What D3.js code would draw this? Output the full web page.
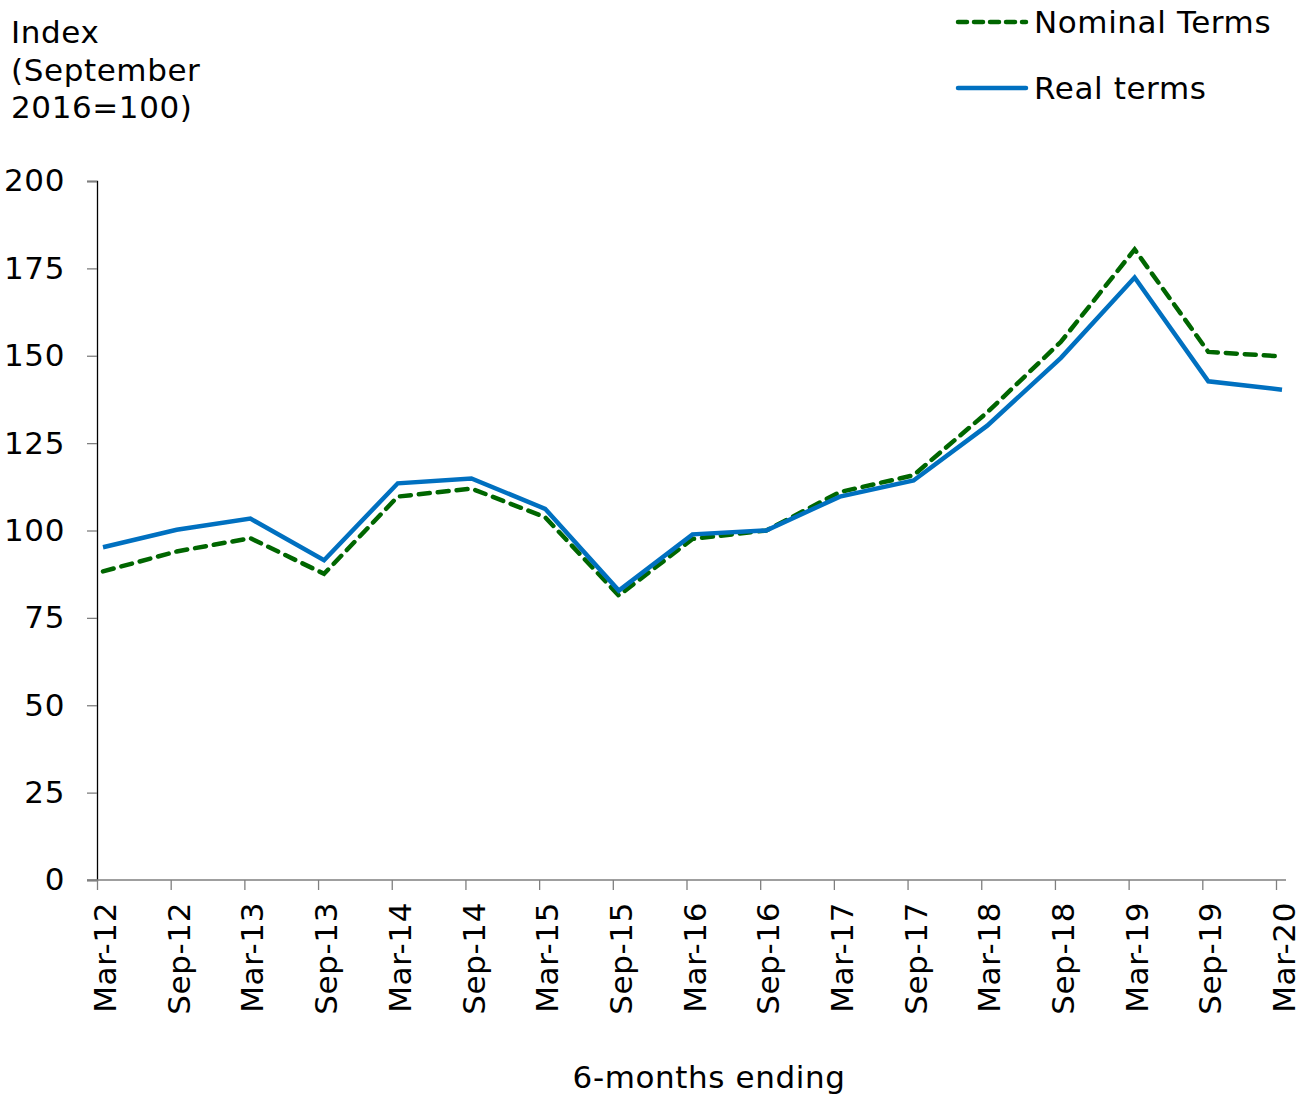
<!DOCTYPE html>
<html>
<head>
<meta charset="utf-8">
<script src="https://cdn.jsdelivr.net/npm/d3@7"></script>
<style>
  body { margin: 0; background: #fff; }
  text { font-family: "DejaVu Sans", Verdana, sans-serif; letter-spacing: 0.6px; }
</style>
</head>
<body>
<div id="chart"></div>
<script>
var width = 1301;
var height = 1094;

var periods = ["Mar-12", "Sep-12", "Mar-13", "Sep-13", "Mar-14", "Sep-14", "Mar-15", "Sep-15",
               "Mar-16", "Sep-16", "Mar-17", "Sep-17", "Mar-18", "Sep-18", "Mar-19", "Sep-19", "Mar-20"];
var nominal = [88.3, 94, 97.8, 87.6, 109.7, 112, 103.8, 81.4,
               97.6, 100, 111, 115.8, 133.8, 154, 180.4, 151.1, 149.8];
var real = [95.2, 100.2, 103.4, 91.5, 113.5, 114.9, 106.2, 82.8,
            98.9, 100, 109.7, 114.3, 130, 149.4, 172.4, 142.7, 140.3];
var yTicks = [0, 25, 50, 75, 100, 125, 150, 175, 200];

var fontSize = "31px";

var svg = d3.select("#chart")
            .append("svg")
            .attr("width", width)
            .attr("height", height);

// scales
var x = d3.scaleLinear().domain([0, periods.length - 1]).range([97, 1276]);
var xPoint = d3.scaleLinear().domain([0, periods.length - 1]).range([103, 1282]);
var y = d3.scaleLinear().domain([0, 200]).range([880, 181]);

// y axis
var yAxis = d3.axisLeft(y).tickValues(yTicks).tickSize(10).tickPadding(22);
var gy = svg.append("g")
    .attr("transform", "translate(97,0)")
    .call(yAxis);
gy.select(".domain").attr("stroke", "#000").attr("stroke-width", 1.3);
gy.selectAll(".tick line").attr("stroke", "#7f7f7f").attr("stroke-width", 1.3);
gy.selectAll(".tick text")
    .style("font-size", fontSize)
    .attr("fill", "#000");

// x axis
var xAxis = d3.axisBottom(x)
    .tickValues(d3.range(periods.length))
    .tickFormat(i => periods[i])
    .tickSize(10)
    .tickSizeOuter(0);
var gx = svg.append("g")
    .attr("transform", "translate(0,880)")
    .call(xAxis);
gx.select(".domain").attr("stroke", "#7f7f7f").attr("stroke-width", 1.5)
    .attr("d", "M" + (x(0) - 10) + ",0H" + (x(periods.length - 1) + 10));
gx.selectAll(".tick line").attr("stroke", "#7f7f7f").attr("stroke-width", 1.3);
gx.selectAll(".tick text")
    .style("font-size", fontSize)
    .attr("fill", "#000")
    .attr("text-anchor", "end")
    .attr("transform", "rotate(-90)")
    .attr("x", -22)
    .attr("y", 0)
    .attr("dy", "0.6em");

// lines
var line = d3.line()
    .x((d, i) => xPoint(i))
    .y(d => y(d))
    .curve(d3.curveLinear);

svg.append("path")
    .datum(nominal)
    .attr("d", line)
    .attr("fill", "none")
    .attr("stroke", "#006600")
    .attr("stroke-width", 4.5)
    .attr("stroke-dasharray", "11,8")
    .attr("stroke-linecap", "round");

svg.append("path")
    .datum(real)
    .attr("d", line)
    .attr("fill", "none")
    .attr("stroke", "#0070c0")
    .attr("stroke-width", 4.5)
    .attr("stroke-linejoin", "miter");

// y axis title
svg.append("text")
    .attr("x", 11)
    .attr("y", 43)
    .style("font-size", fontSize)
    .selectAll("tspan")
    .data(["Index", "(September", "2016=100)"])
    .enter()
    .append("tspan")
    .attr("x", 11)
    .attr("dy", (d, i) => i === 0 ? 0 : 37.5)
    .text(d => d);

// x axis title
svg.append("text")
    .text("6-months ending")
    .attr("x", 709)
    .attr("y", 1088)
    .attr("text-anchor", "middle")
    .style("font-size", fontSize);

// legend
var legendItems = [
    { name: "Nominal Terms", color: "#006600", dash: "9,7", y: 22 },
    { name: "Real terms", color: "#0070c0", dash: null, y: 88 }
];
var legend = svg.selectAll(".legend")
    .data(legendItems)
    .enter()
    .append("g")
    .attr("class", "legend");
legend.append("line")
    .attr("x1", 958)
    .attr("x2", 1026)
    .attr("y1", d => d.y)
    .attr("y2", d => d.y)
    .attr("stroke", d => d.color)
    .attr("stroke-width", 4.5)
    .attr("stroke-linecap", "round")
    .attr("stroke-dasharray", d => d.dash);
legend.append("text")
    .text(d => d.name)
    .attr("x", 1034)
    .attr("y", d => d.y + 11)
    .style("font-size", fontSize);
</script>
</body>
</html>
